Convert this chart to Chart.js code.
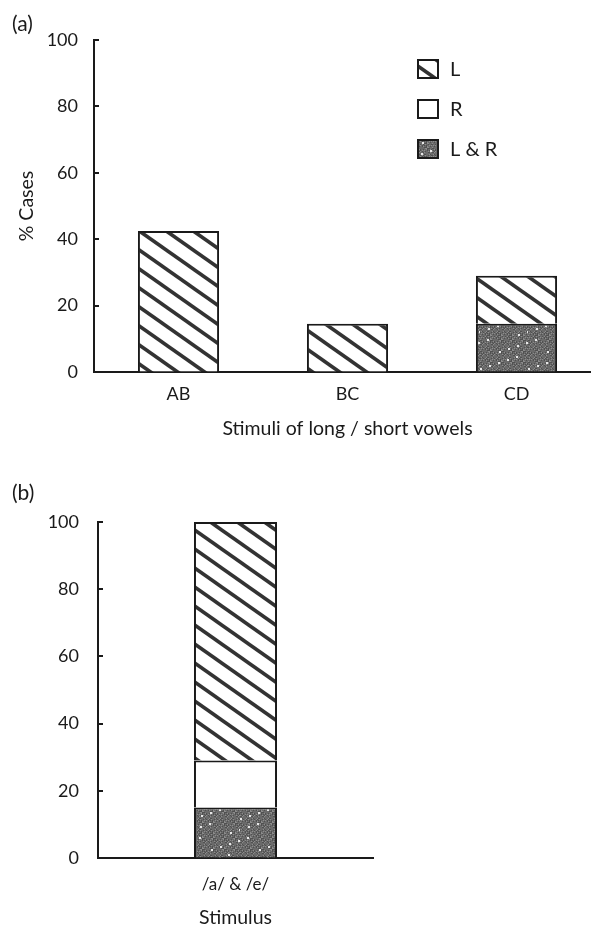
<!DOCTYPE html>
<html>
<head>
<meta charset="utf-8">
<script src="https://cdn.jsdelivr.net/npm/chart.js@4/dist/chart.umd.min.js"></script>
<style>
  html, body { margin: 0; padding: 0; background: #fff; width: 591px; height: 925px; overflow: hidden; }
  #wrapA { position: absolute; left: 0; top: 0; width: 601px; height: 450px; }
  #wrapB { position: absolute; left: 0; top: 450px; width: 591px; height: 479px; }
  .panel { position: absolute; left: 12px; font-family: Lato, sans-serif; font-size: 21px; line-height: 22px; color: #1a1a1a; }
</style>
</head>
<body>
<div id="wrapA"><canvas id="chartA" width="601" height="450"></canvas></div>
<div id="wrapB"><canvas id="chartB" width="591" height="479"></canvas></div>
<div class="panel" style="top:12px;">(a)</div>
<div class="panel" style="top:481px;">(b)</div>
<script>
// ---- data ----
const categoriesA = ['AB', 'BC', 'CD'];
const valuesLA = [42.5, 14.5, 14.5];
const valuesRA = [0, 0, 0];
const valuesLRA = [0, 0, 14.5];

const categoriesB = ['/a/ & /e/'];
const valuesLB = [71];
const valuesRB = [14];
const valuesLRB = [15];

const yTickValues = [0, 20, 40, 60, 80, 100];
const seriesNames = ['L', 'R', 'L & R'];
const titleA_x = 'Stimuli of long / short vowels';
const titleA_y = '% Cases';
const titleB_x = 'Stimulus';

// ---- patterns ----
function makeHatch() {
  const W = 27, H = 19;
  const c = document.createElement('canvas');
  c.width = W; c.height = H;
  const g = c.getContext('2d');
  g.fillStyle = '#fff';
  g.fillRect(0, 0, W, H);
  g.strokeStyle = '#333';
  g.lineWidth = 3.6;
  for (let k = -1; k <= 1; k++) {
    g.beginPath();
    g.moveTo(-W, -H + k * H);
    g.lineTo(2 * W, 2 * H + k * H);
    g.stroke();
  }
  return g.createPattern(c, 'repeat');
}
function makeGrain() {
  const S = 48;
  const c = document.createElement('canvas');
  c.width = S; c.height = S;
  const g = c.getContext('2d');
  g.fillStyle = '#6a6a6a';
  g.fillRect(0, 0, S, S);
  for (let y = 0; y < S; y++) {
    for (let x = 0; x < S; x++) {
      const h = (x * 37 + y * 91 + x * y * 13) % 11;
      if (h < 3) { g.fillStyle = '#505050'; g.fillRect(x, y, 1, 1); }
      else if (h > 8) { g.fillStyle = '#8c8c8c'; g.fillRect(x, y, 1, 1); }
    }
  }
  g.fillStyle = '#e8e8e8';
  for (let i = 0; i < 14; i++) {
    const x = (i * 29 + 7) % S, y = (i * 17 + 3) % S;
    g.fillRect(x, y, 2, 2);
  }
  return g.createPattern(c, 'repeat');
}
const hatch = makeHatch();
const grain = makeGrain();
const fills = [hatch, '#ffffff', grain];

const FONT = 'Lato, sans-serif';
const INK = '#1a1a1a';

const inwardTicks = {
  id: 'inwardTicks',
  afterDraw(chart) {
    const ys = chart.scales.y, ca = chart.chartArea, ctx = chart.ctx;
    ctx.save();
    ctx.strokeStyle = INK;
    ctx.lineWidth = 2;
    ys.ticks.forEach(t => {
      if (t.value === 0) return;
      const py = Math.round(ys.getPixelForValue(t.value));
      ctx.beginPath();
      ctx.moveTo(ca.left, py);
      ctx.lineTo(ca.left + 5, py);
      ctx.stroke();
    });
    ctx.restore();
  }
};

const innerLegend = {
  id: 'innerLegend',
  afterDraw(chart, args, opts) {
    if (!opts.show) return;
    const ctx = chart.ctx;
    ctx.save();
    const ds = chart.data.datasets.slice().reverse();
    ds.forEach((d, i) => {
      const bx = opts.x, by = opts.y + i * opts.gap;
      ctx.fillStyle = d.backgroundColor;
      ctx.fillRect(bx, by, 20, 18);
      ctx.strokeStyle = INK;
      ctx.lineWidth = 2;
      ctx.strokeRect(bx, by, 20, 18);
      ctx.fillStyle = INK;
      ctx.font = '20px ' + FONT;
      ctx.textBaseline = 'middle';
      ctx.textAlign = 'left';
      ctx.fillText(d.label, bx + 32, by + 10);
    });
    ctx.restore();
  }
};

function datasets(lr, r, l) {
  const bw = { top: 2, left: 2, right: 2, bottom: 0 };
  return [
    { label: seriesNames[2], data: lr, backgroundColor: fills[2], borderColor: INK, borderWidth: bw },
    { label: seriesNames[1], data: r, backgroundColor: fills[1], borderColor: INK, borderWidth: bw },
    { label: seriesNames[0], data: l, backgroundColor: fills[0], borderColor: INK, borderWidth: bw }
  ];
}

function makeChart(id, labels, ds, cfg) {
  return new Chart(document.getElementById(id), {
    type: 'bar',
    data: { labels: labels, datasets: ds },
    options: {
      responsive: false,
      animation: false,
      events: [],
      barPercentage: cfg.barPct,
      categoryPercentage: 1,
      layout: { padding: cfg.padding },
      plugins: {
        legend: { display: false },
        tooltip: { enabled: false },
        innerLegend: cfg.legend
      },
      scales: {
        x: {
          stacked: true,
          grid: { display: false, drawTicks: false },
          border: { display: true, color: INK, width: 2 },
          ticks: { color: INK, font: { family: FONT, size: cfg.xTickSize }, padding: cfg.xTickPad },
          title: { display: true, text: cfg.xTitle, color: INK, font: { family: FONT, size: 19.5 }, padding: { top: 0, bottom: cfg.xTitlePad } },
          afterFit(s) { s.height = cfg.xHeight; }
        },
        y: {
          stacked: true,
          min: 0, max: 100,
          afterBuildTicks(s) { s.ticks = yTickValues.map(v => ({ value: v })); },
          grid: { display: true, drawOnChartArea: false, drawTicks: false },
          border: { display: true, color: INK, width: 2 },
          ticks: { color: INK, font: { family: FONT, size: 18 }, padding: cfg.yTickPad },
          title: { display: !!cfg.yTitle, text: cfg.yTitle || '', color: INK, font: { family: FONT, size: 19.5 }, padding: { top: 15, bottom: 0 } },
          afterFit(s) { s.width = cfg.yWidth; }
        }
      }
    },
    plugins: [inwardTicks, innerLegend]
  });
}

makeChart('chartA', categoriesA, datasets(valuesLRA, valuesRA, valuesLA), {
  barPct: 0.48,
  padding: { top: 40, left: 0, right: 0, bottom: 0 },
  xTickSize: 18, xTickPad: 11, xTitlePad: 10, xHeight: 78, xTitle: titleA_x,
  yTickPad: 16, yWidth: 94, yTitle: titleA_y,
  legend: { show: true, x: 418, y: 60, gap: 40 }
});

makeChart('chartB', categoriesB, datasets(valuesLRB, valuesRB, valuesLB), {
  barPct: 0.302,
  padding: { top: 72, left: 0, right: 218, bottom: 0 },
  xTickSize: 17, xTickPad: 16, xTitlePad: 0, xHeight: 71, xTitle: titleB_x,
  yTickPad: 19, yWidth: 98, yTitle: '',
  legend: { show: false }
});
</script>
</body>
</html>
